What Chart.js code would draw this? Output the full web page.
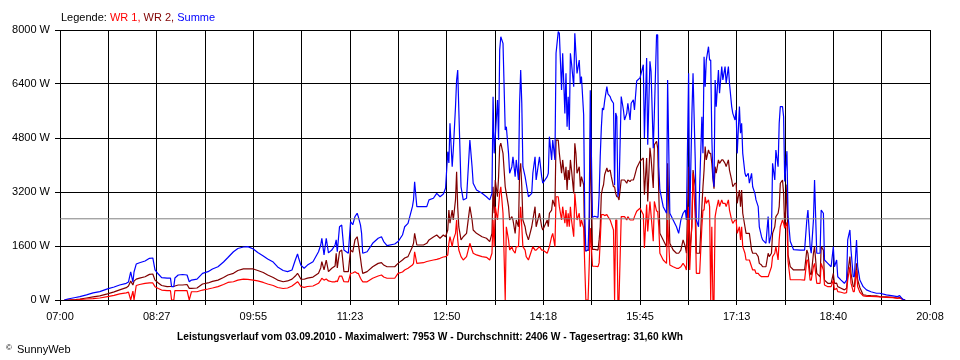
<!DOCTYPE html>
<html>
<head>
<meta charset="utf-8">
<title>Leistungsverlauf 03.09.2010</title>
<script src="https://cdn.jsdelivr.net/npm/chart.js@4"></script>
<style>
    body { margin: 0; background: #fff; }
    #wrap { position: relative; width: 960px; height: 360px; font-family: "Liberation Sans", Arial, sans-serif; font-size: 11px; color: #000; }
    #chart { position: absolute; left: 0; top: 0; }
    .txt { position: absolute; white-space: nowrap; line-height: 13px; }
    #legend { left: 61px; top: 11px; }
    #footer { left: 177px; top: 330px; font-weight: bold; transform-origin: 0 0; }
    #copy { left: 6px; top: 341px; font-size: 8px; }
    #brand { left: 17px; top: 343px; }
</style>
</head>
<body>
<div id="wrap">
    <canvas id="chart" width="960" height="360"></canvas>
    <div id="legend" class="txt">Legende: <span style="color:#ff0000">WR 1,</span> <span style="color:#800000">WR 2,</span> <span style="color:#0000ff">Summe</span></div>
    <div id="footer" class="txt">Leistungsverlauf vom 03.09.2010 - Maximalwert: 7953 W - Durchschnitt: 2406 W - Tagesertrag: 31,60 kWh</div>
    <div id="copy" class="txt">&copy;</div>
    <div id="brand" class="txt">SunnyWeb</div>
</div>

<script>
// ------------------- DATA -------------------
// minutes after 07:00
const minutes = [
    4, 7, 14, 18, 24, 30, 36, 43, 49, 54,
    60, 62, 64, 66, 67, 69, 72, 77, 81, 84,
    86, 89, 92, 97, 100, 101, 103, 104, 107, 111,
    115, 117, 119, 124, 129, 134, 138, 143, 148, 152,
    157, 161, 166, 170, 175, 179, 184, 188, 193, 197,
    202, 206, 210, 213, 215, 216, 218, 221, 224, 229,
    234, 236, 237, 239, 241, 243, 246, 249, 250, 251,
    253, 255, 257, 261, 263, 265, 267, 269, 270, 272,
    273, 274, 278, 283, 288, 291, 293, 296, 303, 306,
    310, 312, 315, 319, 320, 321, 323, 329, 332, 334,
    338, 341, 344, 347, 349, 351, 352, 353, 355, 356,
    358, 359, 360, 361, 363, 365, 368, 371, 373, 374,
    377, 382, 386, 389, 391, 392, 393, 394, 396, 397,
    398, 399, 401, 403, 404, 406, 407, 409, 410, 412,
    413, 415, 416, 417, 418, 419, 421, 422, 424, 427,
    428, 430, 431, 434, 436, 437, 441, 442, 443, 445,
    446, 448, 449, 451, 452, 454, 455, 457, 458, 459,
    460, 461, 462, 463, 465, 466, 467, 468, 470, 471,
    472, 474, 475, 476, 478, 479, 480, 482, 484, 487,
    488, 489, 490, 491, 492, 493, 495, 496, 498, 499,
    501, 502, 503, 504, 505, 506, 508, 510, 511, 513,
    514, 516, 517, 519, 520, 522, 525, 528, 529, 531,
    532, 534, 535, 537, 538, 540, 541, 542, 543, 546,
    549, 550, 552, 555, 558, 560, 562, 564, 566, 567,
    569, 570, 572, 573, 575, 576, 578, 579, 581, 582,
    583, 584, 585, 587, 588, 589, 590, 591, 592, 593,
    594, 596, 597, 599, 600, 602, 603, 605, 606, 608,
    609, 611, 612, 613, 615, 616, 617, 618, 620, 621,
    623, 624, 626, 627, 629, 630, 632, 633, 635, 636,
    639, 641, 642, 644, 645, 647, 648, 650, 651, 652,
    654, 655, 656, 658, 659, 661, 664, 670, 674, 676,
    677, 679, 680, 682, 683, 685, 688, 689, 691, 692,
    695, 698, 700, 701, 703, 704, 707, 710, 712, 713,
    715, 716, 718, 719, 721, 722, 724, 727, 730, 734,
    739, 742, 748, 754, 758, 760, 762, 763, 765
];

// Summe (W)
const summe = [
    0, 30, 75, 100, 150, 210, 250, 330, 385, 445,
    495, 535, 830, 530, 830, 1065, 1105, 1155, 1235, 1245,
    890, 770, 665, 650, 650, 395, 395, 650, 740, 755,
    740, 540, 590, 620, 790, 840, 920, 985, 1125, 1260,
    1430, 1525, 1570, 1580, 1510, 1405, 1305, 1215, 1125, 980,
    875, 840, 890, 1185, 1365, 1245, 1035, 940, 1035, 1135,
    1430, 1630, 1830, 1335, 1830, 1395, 1480, 1630, 1780, 1430,
    2170, 2220, 1480, 1385, 2320, 2230, 2470, 2570, 2470, 2220,
    1975, 1385, 1430, 1680, 1830, 1875, 1730, 1610, 1660, 1730,
    1925, 2170, 2270, 2765, 2965, 3505, 2765, 2765, 2765, 2965,
    3015, 3160, 3060, 3140, 3310, 4395, 4060, 5235, 3950, 4445,
    5725, 6520, 6815, 5630, 3355, 2965, 3015, 4740, 3950, 3460,
    3260, 3160, 3060, 2965, 3160, 6025, 4345, 4840, 5925, 4740,
    7410, 7800, 7605, 5035, 5135, 4345, 3755, 3950, 4245, 3655,
    4150, 3555, 5830, 6815, 5830, 3950, 3655, 3460, 3060, 3160,
    3755, 4245, 3555, 4245, 3655, 3460, 3655, 3755, 4840, 4150,
    4740, 4150, 7310, 7953, 7900, 6220, 7310, 5530, 6715, 5135,
    6025, 5035, 7310, 7015, 6320, 7900, 7310, 6715, 7110, 6420,
    6620, 5490, 2500, 1450, 1480, 2480, 6215, 2450, 2480, 2450,
    3120, 4250, 5100, 5690, 5630, 5900, 6320, 6110, 6025, 5930,
    5830, 3400, 5540, 5430, 3060, 3260, 6030, 5630, 5335, 5530,
    5830, 5335, 5830, 5930, 5630, 6490, 6580, 6970, 4800, 7170,
    4600, 7070, 6775, 4500, 5530, 7860, 7860, 3950, 3260, 2765,
    2570, 6520, 2570, 2370, 2170, 1975, 2370, 2570, 2665, 2370,
    6715, 2370, 5530, 6715, 4150, 2370, 2170, 3355, 5430, 4345,
    7210, 6320, 7110, 7505, 7110, 7110, 4840, 3655, 3355, 6520,
    5730, 6815, 6125, 6915, 6520, 6915, 6420, 6915, 6420, 5730,
    5530, 5335, 5630, 4345, 5730, 4940, 5235, 4345, 3755, 3655,
    3755, 3460, 3755, 3355, 3160, 2965, 2765, 2170, 1875, 1780,
    1680, 2470, 1680, 1975, 4050, 3555, 4445, 3950, 5235, 5730,
    5730, 5430, 3515, 4410, 2510, 1740, 1490, 1480, 1480, 2370,
    2665, 1580, 1385, 2370, 3555, 1385, 1385, 2665, 2570, 1185,
    1085, 985, 1580, 985, 1185, 690, 590, 495, 590, 1780,
    2075, 1480, 690, 690, 1780, 1000, 590, 395, 300, 245,
    200, 200, 150, 120, 100, 130, 50, 20, 0
];

// WR 2 (W)
const wr2 = [
    0, 0, 15, 30, 60, 90, 120, 180, 240, 300,
    365, 415, 560, 445, 560, 620, 650, 690, 760, 770,
    590, 505, 430, 395, 400, 400, 400, 415, 445, 445,
    460, 345, 345, 355, 475, 505, 550, 590, 665, 740,
    790, 875, 920, 925, 920, 875, 815, 740, 665, 590,
    540, 565, 620, 710, 790, 740, 620, 615, 650, 680,
    790, 950, 1135, 890, 1185, 840, 940, 1010, 1385, 950,
    1430, 1480, 840, 840, 1480, 1420, 1780, 1875, 1680, 1235,
    985, 790, 840, 985, 1085, 1105, 1035, 985, 985, 1085,
    1185, 1245, 1285, 1580, 1680, 1975, 1630, 1630, 1680, 1780,
    1865, 1925, 1830, 1925, 1875, 2075, 2665, 2275, 2665, 2370,
    2965, 3800, 2755, 2165, 1780, 1875, 1975, 2765, 2370, 2075,
    1975, 1875, 1830, 1730, 1975, 3355, 2570, 3555, 3060, 3655,
    4540, 4645, 4345, 3355, 3160, 2765, 2370, 2470, 2370, 1975,
    2370, 2170, 3755, 4050, 3355, 2370, 2170, 1975, 1780, 2170,
    2370, 2765, 2170, 2570, 2170, 2075, 2370, 2170, 2570, 2665,
    2965, 2765, 4740, 4740, 4345, 3755, 4150, 3555, 3950, 3260,
    3850, 3555, 4150, 3850, 3160, 4645, 4345, 3755, 3950, 3355,
    3655, 3415, 1500, 1450, 1480, 1480, 4800, 1500, 1500, 1480,
    1780, 2170, 3120, 3300, 3415, 3710, 3910, 3800, 3850, 3660,
    3355, 3355, 3160, 3060, 3060, 2965, 3555, 3555, 3555, 3460,
    3555, 3510, 3555, 3555, 3655, 3910, 4110, 4210, 3120, 4210,
    2920, 4510, 4210, 3320, 4600, 4700, 4500, 3160, 1975, 1780,
    1580, 4050, 1680, 1480, 1385, 1385, 1480, 1780, 1580, 1385,
    3950, 1385, 2170, 3850, 3355, 1385, 1385, 1385, 2765, 3355,
    3850, 4545, 4150, 4445, 4345, 4345, 4050, 3600, 3300, 3950,
    3755, 4150, 4050, 4150, 4150, 4050, 3950, 4150, 3850, 3555,
    3355, 3460, 3460, 2865, 3260, 2765, 3260, 2570, 2170, 1975,
    1975, 1975, 1480, 1385, 1385, 1385, 1285, 1085, 1035, 985,
    985, 1385, 1285, 1385, 1975, 2170, 2470, 2570, 2765, 3460,
    3555, 3160, 2130, 3420, 1340, 990, 890, 890, 890, 1480,
    1380, 790, 740, 1385, 1580, 790, 690, 1580, 1480, 590,
    495, 495, 790, 495, 500, 395, 350, 300, 350, 790,
    1285, 790, 400, 395, 1085, 600, 370, 150, 140, 130,
    120, 100, 90, 80, 60, 70, 40, 10, 0
];

// WR 1 (W)
const wr1 = [
    0, 0, 0, 15, 30, 40, 60, 100, 135, 180,
    210, 235, 0, 265, 0, 430, 460, 490, 510, 505,
    395, 340, 295, 275, 275, 0, 0, 280, 275, 275,
    275, 0, 245, 245, 295, 325, 355, 395, 460, 520,
    540, 590, 620, 610, 590, 565, 520, 475, 430, 370,
    340, 355, 415, 490, 540, 505, 400, 375, 400, 415,
    495, 590, 645, 590, 620, 565, 540, 540, 565, 540,
    710, 710, 540, 535, 790, 800, 840, 790, 790, 645,
    590, 540, 540, 645, 710, 740, 680, 645, 645, 790,
    830, 890, 940, 1035, 1085, 1430, 1085, 1105, 1140, 1155,
    1185, 1205, 1235, 1275, 1285, 1335, 1680, 1875, 1580, 1780,
    1975, 2370, 1780, 1480, 1285, 1185, 1285, 1680, 1480, 1385,
    1335, 1285, 1265, 1185, 1385, 2370, 1580, 2765, 2370, 2765,
    3160, 3355, 2570, 0, 2170, 1780, 1480, 1580, 1480, 1385,
    1580, 1580, 2275, 2765, 2170, 1580, 1480, 1285, 1185, 1480,
    1580, 1480, 1480, 1580, 1480, 1480, 1385, 1480, 1580, 1875,
    1975, 1580, 3060, 3060, 2765, 2370, 2765, 2275, 2665, 2170,
    2570, 2170, 2765, 2370, 1875, 3160, 2765, 2370, 2570, 2170,
    2370, 2135, 1000, 0, 0, 1000, 2135, 1000, 1000, 990,
    1100, 1740, 2530, 2530, 2530, 2500, 2530, 2470, 2370, 2270,
    2075, 0, 2370, 2370, 0, 0, 2470, 2470, 2470, 2370,
    2470, 2370, 2370, 2370, 2470, 2630, 2720, 2530, 1540, 2830,
    2030, 2920, 2530, 1740, 2920, 2630, 2630, 2170, 1385, 1185,
    1085, 2370, 1035, 985, 940, 940, 985, 1085, 985, 890,
    2765, 890, 2370, 3755, 2470, 790, 790, 790, 2170, 2665,
    2665, 3060, 2865, 2965, 2765, 0, 2170, 0, 0, 2470,
    2665, 2965, 2765, 2965, 2865, 2865, 2765, 2965, 2665, 2370,
    2270, 2370, 2370, 1975, 2170, 1780, 2170, 1580, 1385, 1185,
    1185, 1185, 985, 890, 890, 790, 790, 740, 690, 690,
    690, 690, 790, 985, 1285, 1385, 1580, 1185, 1780, 2170,
    2370, 2270, 2130, 2300, 1150, 600, 600, 600, 590, 1185,
    1185, 590, 590, 985, 1085, 495, 495, 1085, 890, 445,
    395, 395, 590, 300, 350, 250, 230, 200, 220, 590,
    985, 500, 250, 250, 890, 400, 230, 120, 110, 110,
    100, 90, 80, 70, 50, 60, 30, 10, 0
];

const avgPower = 2406;
const xTickLabels = ["07:00", "08:27", "09:55", "11:23", "12:50", "14:18", "15:45", "17:13", "18:40", "20:08"];
const yMax = 8000;
const yStep = 1600;

// ------------------- CHART -------------------
const xMax = 787.5;              // 07:00 .. 20:08
const gridStep = xMax / 18;      // one grid line between two labels

Chart.defaults.font.family = '"Liberation Sans", Arial, sans-serif';
Chart.defaults.font.size = 11;
Chart.defaults.color = "#000";

function toPoints(values) {
    return minutes.map((m, i) => ({ x: m, y: values[i] }));
}

const lineBase = {
    borderWidth: 1.2,
    pointRadius: 0,
    tension: 0,
    fill: false,
    borderJoinStyle: "bevel"
};

new Chart(document.getElementById("chart"), {
    type: "line",
    data: {
        datasets: [
            { ...lineBase, borderWidth: 1, label: "Durchschnitt", data: [{ x: 0, y: avgPower }, { x: xMax, y: avgPower }], borderColor: "#808080", order: 0 },
            { ...lineBase, label: "Summe", data: toPoints(summe), borderColor: "#0000ff", order: 1 },
            { ...lineBase, label: "WR 1", data: toPoints(wr1), borderColor: "#ff0000", order: 2 },
            { ...lineBase, label: "WR 2", data: toPoints(wr2), borderColor: "#800000", order: 3 }
        ]
    },
    options: {
        responsive: false,
        animation: false,
        devicePixelRatio: 1,
        layout: { padding: { top: 30, right: 30, left: 0, bottom: 0 } },
        plugins: { legend: { display: false }, tooltip: { enabled: false } },
        scales: {
            x: {
                type: "linear",
                min: 0,
                max: xMax,
                grid: { color: "#000", tickLength: 5 },
                border: { color: "#000" },
                ticks: {
                    autoSkip: false,
                    maxRotation: 0,
                    minRotation: 0,
                    padding: 5,
                    callback: (value, index) => index % 2 === 0 ? xTickLabels[index / 2] : ""
                },
                afterBuildTicks: axis => {
                    const ticks = [];
                    for (let i = 0; i <= 18; i++) ticks.push({ value: i * gridStep });
                    axis.ticks = ticks;
                },
                afterFit: s => {
                    s.height = 60;
                    s.paddingLeft = 0; s.paddingRight = 0; s.paddingTop = 0; s.paddingBottom = 0;
                }
            },
            y: {
                min: 0,
                max: yMax,
                grid: { color: "#000", tickLength: 5 },
                border: { color: "#000" },
                ticks: {
                    stepSize: yStep,
                    padding: 5,
                    callback: v => v + " W"
                },
                afterFit: s => {
                    s.width = 60;
                    s.paddingLeft = 0; s.paddingRight = 0; s.paddingTop = 0; s.paddingBottom = 0;
                }
            }
        }
    }
});

// squeeze the footer line to the width it has in the original
const footer = document.getElementById("footer");
const footerWidth = footer.getBoundingClientRect().width;
footer.style.transform = "scaleX(" + (506 / footerWidth) + ")";
</script>
</body>
</html>
